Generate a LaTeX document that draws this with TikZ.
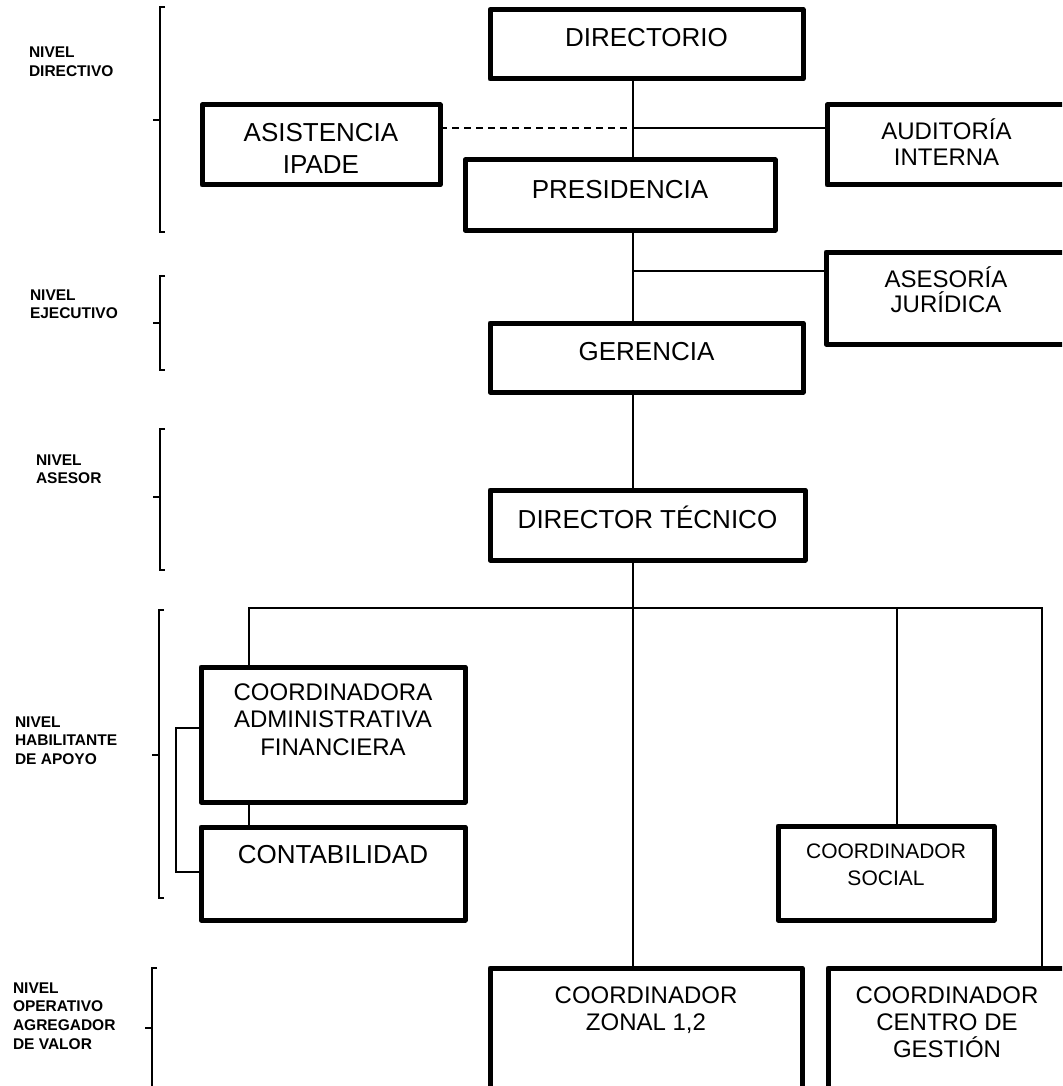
\documentclass[tikz,border=0pt]{standalone}
\usepackage{fontspec}
\setmainfont{Liberation Sans}
\newcommand\tstr{\rule{0pt}{1em}}
\begin{document}
\begin{tikzpicture}[x=1pt,y=-1pt,
  box/.style={draw, rectangle, line width=5pt, line join=round, inner sep=0pt, outer sep=0pt},
  conn/.style={line width=1.2pt},
  dashconn/.style={line width=1.2pt, dash pattern=on 7pt off 5pt},
  brk/.style={line width=1.5pt},
  btext/.style={inner sep=0pt, outer sep=0pt, anchor=north, align=center},
  lvl/.style={inner sep=0pt, outer sep=0pt, anchor=north west, align=left, font=\bfseries\fontsize{15.5}{18.7}\selectfont}]
\useasboundingbox (0,0) rectangle (1062,1086);
\fill[white] (0,0) rectangle (1062,1086);
\clip (0,0) rectangle (1062,1086);

% boxes
\node[box, minimum width=313pt, minimum height=69.5pt] (dir) at (646.5,44.25) {};
\node[box, minimum width=238pt, minimum height=80pt] (asi) at (321,145) {};
\node[box, minimum width=239pt, minimum height=80pt] (aud) at (946.5,145) {};
\node[box, minimum width=310pt, minimum height=70pt] (pre) at (620,195) {};
\node[box, minimum width=240pt, minimum height=92pt] (ase) at (946,298) {};
\node[box, minimum width=313pt, minimum height=69pt] (ger) at (646.5,357.5) {};
\node[box, minimum width=315pt, minimum height=70pt] (dt) at (647.5,525) {};
\node[box, minimum width=264pt, minimum height=135pt] (coa) at (333,734.5) {};
\node[box, minimum width=264pt, minimum height=93pt] (con) at (333,873.5) {};
\node[box, minimum width=216pt, minimum height=94pt] (soc) at (886,873) {};
\node[box, minimum width=238pt, minimum height=152pt] (cen) at (947,1044) {};
\node[box, minimum width=312pt, minimum height=152pt] (zon) at (646,1044) {};

% box texts
\node[btext, font=\fontsize{26}{31}\selectfont] (tdir) at ([yshift=-11pt]dir.north) {\tstr DIRECTORIO};
\node[btext, font=\fontsize{26}{31.5}\selectfont] (tasi) at ([yshift=-11pt]asi.north) {\tstr ASISTENCIA\\IPADE};
\node[btext, font=\fontsize{24}{25.5}\selectfont] (taud) at ([yshift=-11pt]aud.north) {\tstr AUDITORÍA\\INTERNA};
\node[btext, font=\fontsize{26}{31}\selectfont] (tpre) at ([yshift=-12pt]pre.north) {\tstr PRESIDENCIA};
\node[btext, font=\fontsize{24}{25.5}\selectfont] (tase) at ([yshift=-11pt]ase.north) {\tstr ASESORÍA\\JURÍDICA};
\node[btext, font=\fontsize{26}{31}\selectfont] (tger) at ([yshift=-11pt]ger.north) {\tstr GERENCIA};
\node[btext, font=\fontsize{26}{31}\selectfont] (tdt) at ([yshift=-12pt]dt.north) {\tstr DIRECTOR TÉCNICO};
\node[btext, font=\fontsize{24}{27.5}\selectfont] (tcoa) at ([yshift=-9pt]coa.north) {\tstr COORDINADORA\\ADMINISTRATIVA\\FINANCIERA};
\node[btext, font=\fontsize{26}{31}\selectfont] (tcon) at ([yshift=-10pt]con.north) {\tstr CONTABILIDAD};
\node[btext, font=\fontsize{21}{27}\selectfont] (tsoc) at ([yshift=-11pt]soc.north) {\tstr COORDINADOR\\SOCIAL};
\node[btext, font=\fontsize{24}{27}\selectfont] (tcen) at ([yshift=-11pt]cen.north) {\tstr COORDINADOR\\CENTRO DE\\GESTIÓN};
\node[btext, font=\fontsize{24}{27}\selectfont] (tzon) at ([yshift=-11pt]zon.north) {\tstr COORDINADOR\\ZONAL 1,2};

% connector helper coordinates
\coordinate (tr) at (633,0);
\coordinate (h1) at (633,128);
\coordinate (h2) at (633,271);
\coordinate (bl) at (249,608);
\coordinate (br) at (1042,608);
\coordinate (sx) at (897,608);
\coordinate (lp) at (176,728);
\coordinate (lq) at (176,872);

% connectors
\draw[conn] (dir.south -| tr) -- (pre.north -| tr);
\draw[conn] (pre.south -| tr) -- (ger.north -| tr);
\draw[conn] (ger.south -| tr) -- (dt.north -| tr);
\draw[conn] (dt.south -| tr) -- (zon.north -| tr);
\draw[conn] (h1) -- (h1 -| aud.west);
\draw[dashconn] (asi.east |- h1) -- (h1);
\draw[conn] (h2) -- (h2 -| ase.west);
\draw[conn] (coa.north -| bl) -- (bl) -- (br) -- (cen.north -| br);
\draw[conn] (sx) -- (sx |- soc.north);
\draw[conn] (coa.south -| bl) -- (con.north -| bl);
\draw[conn] (lp -| coa.west) -- (lp) -- (lq) -- (lq -| con.west);

% level brackets
\draw[brk] (165,7) -- (160,7) -- (160,232) -- (165,232);
\draw[brk] (160,120) -- (153,120);
\draw[brk] (165,276) -- (160,276) -- (160,370) -- (165,370);
\draw[brk] (160,323) -- (153,323);
\draw[brk] (165,429) -- (160,429) -- (160,570) -- (165,570);
\draw[brk] (160,497) -- (153,497);
\draw[brk] (164,610) -- (159,610) -- (159,898) -- (164,898);
\draw[brk] (159,755) -- (152,755);
\draw[brk] (157,968) -- (152,968) -- (152,1095);
\draw[brk] (152,1028) -- (145,1028);

% level labels
\node[lvl] (l1) at (29,42.5) {\tstr NIVEL\\DIRECTIVO};
\node[lvl] (l2) at (30,284.5) {\tstr NIVEL\\EJECUTIVO};
\node[lvl] (l3) at (36,449.5) {\tstr NIVEL\\ASESOR};
\node[lvl] (l4) at (15,711.5) {\tstr NIVEL\\HABILITANTE\\DE APOYO};
\node[lvl] (l5) at (13,977.5) {\tstr NIVEL\\OPERATIVO\\AGREGADOR\\DE VALOR};
\end{tikzpicture}
\end{document}
